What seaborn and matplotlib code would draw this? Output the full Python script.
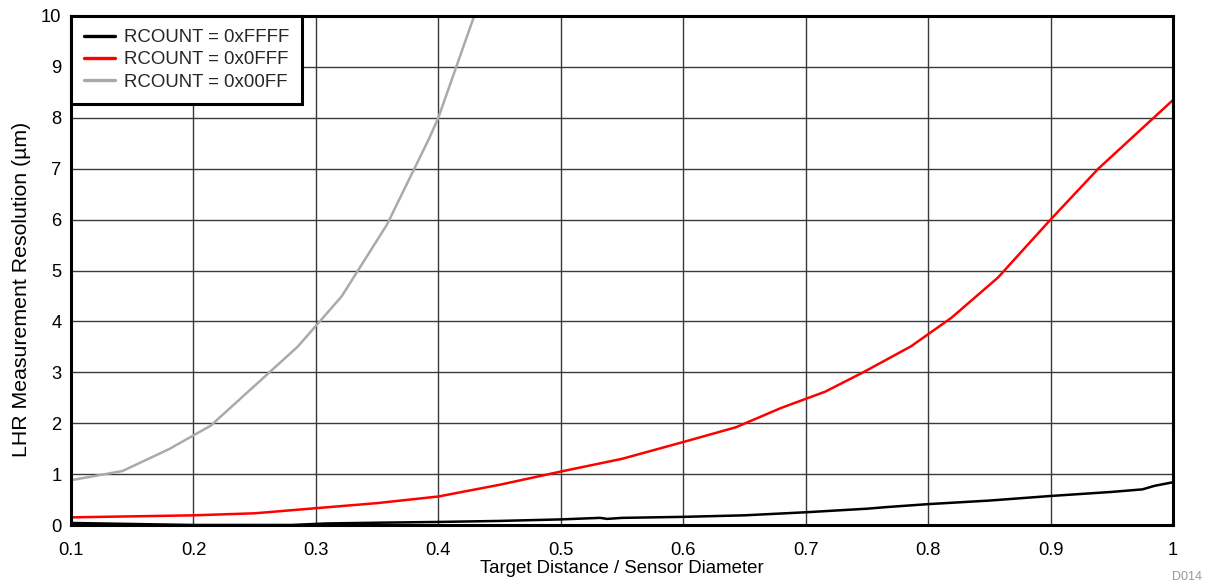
import matplotlib
matplotlib.use("Agg")
import matplotlib.pyplot as plt
import seaborn as sns
import pandas as pd

# Data
x_ffff = [0.10, 0.15, 0.20, 0.25, 0.28, 0.308, 0.35, 0.40, 0.45, 0.50, 0.532, 0.538, 0.55, 0.60,
          0.65, 0.70, 0.75, 0.765, 0.80, 0.85, 0.90, 0.95, 0.975, 0.985, 1.00]
y_ffff = [0.04, 0.02, 0.00, 0.00, 0.00, 0.03, 0.045, 0.06, 0.08, 0.11, 0.14, 0.12, 0.14, 0.16,
          0.19, 0.25, 0.32, 0.35, 0.41, 0.48, 0.57, 0.65, 0.70, 0.77, 0.84]

x_0fff = [0.10, 0.20, 0.25, 0.30, 0.35, 0.40, 0.45, 0.50, 0.55, 0.60, 0.643, 0.68, 0.716,
          0.747, 0.786, 0.819, 0.857, 0.90, 0.939, 1.00]
y_0fff = [0.15, 0.19, 0.23, 0.33, 0.43, 0.56, 0.79, 1.05, 1.30, 1.63, 1.92, 2.30, 2.62,
          3.00, 3.51, 4.07, 4.86, 6.00, 7.00, 8.35]

x_00ff = [0.10, 0.142, 0.18, 0.214, 0.285, 0.321, 0.358, 0.392, 0.40, 0.43]
y_00ff = [0.88, 1.06, 1.49, 1.95, 3.50, 4.49, 5.90, 7.57, 8.00, 10.05]

series_names = ["RCOUNT = 0xFFFF", "RCOUNT = 0x0FFF", "RCOUNT = 0x00FF"]
series_colors = ["#000000", "#ff0000", "#aaaaaa"]

x_ticks = [0.1, 0.2, 0.3, 0.4, 0.5, 0.6, 0.7, 0.8, 0.9, 1.0]
x_tick_labels = ["0.1", "0.2", "0.3", "0.4", "0.5", "0.6", "0.7", "0.8", "0.9", "1"]
y_ticks = [0, 1, 2, 3, 4, 5, 6, 7, 8, 9, 10]

df = pd.concat([
    pd.DataFrame({"x": x_ffff, "y": y_ffff, "series": series_names[0]}),
    pd.DataFrame({"x": x_0fff, "y": y_0fff, "series": series_names[1]}),
    pd.DataFrame({"x": x_00ff, "y": y_00ff, "series": series_names[2]}),
], ignore_index=True)

sns.set_theme(style="white")
plt.rcParams["font.family"] = ["Liberation Sans", "DejaVu Sans"]

fig = plt.figure(figsize=(12.08, 5.83), dpi=100)
ax = fig.add_axes([71/1208, 58/583, (1173-71)/1208, (525-16)/583])

sns.lineplot(data=df, x="x", y="y", hue="series", hue_order=series_names,
             palette=series_colors, sort=False, estimator=None, linewidth=1.8, ax=ax)

ax.set_xlim(0.1, 1.0)
ax.set_ylim(0, 10)
ax.set_xticks(x_ticks)
ax.set_xticklabels(x_tick_labels)
ax.set_yticks(y_ticks)
ax.grid(True, color="#3a3a3a", linewidth=1.0)
ax.set_axisbelow(True)
for s in ax.spines.values():
    s.set_color("black")
    s.set_linewidth(2.2)
ax.tick_params(axis="both", length=0, labelsize=13.2, colors="black")
ax.tick_params(axis="x", pad=12)
ax.tick_params(axis="y", pad=7)
ax.set_xlabel("Target Distance / Sensor Diameter", fontsize=13.4, color="black", labelpad=1)
ax.set_ylabel("LHR Measurement Resolution (µm)", fontsize=15.3, color="black")
ax.yaxis.set_label_coords(-0.036, 0.462)

leg = ax.legend(loc="upper left", fontsize=13.4, frameon=True, fancybox=False,
                borderaxespad=0, handlelength=1.65, labelspacing=0.28,
                borderpad=0.7, handletextpad=0.5)
leg.get_frame().set_edgecolor("black")
leg.get_frame().set_linewidth(2.2)
leg.get_frame().set_alpha(1)
for line in leg.get_lines():
    line.set_linewidth(2.4)

fig.text(1202/1208, 0, "D014", ha="right", va="bottom", fontsize=9, color="#999999")

fig.savefig("out.png", dpi=100)
